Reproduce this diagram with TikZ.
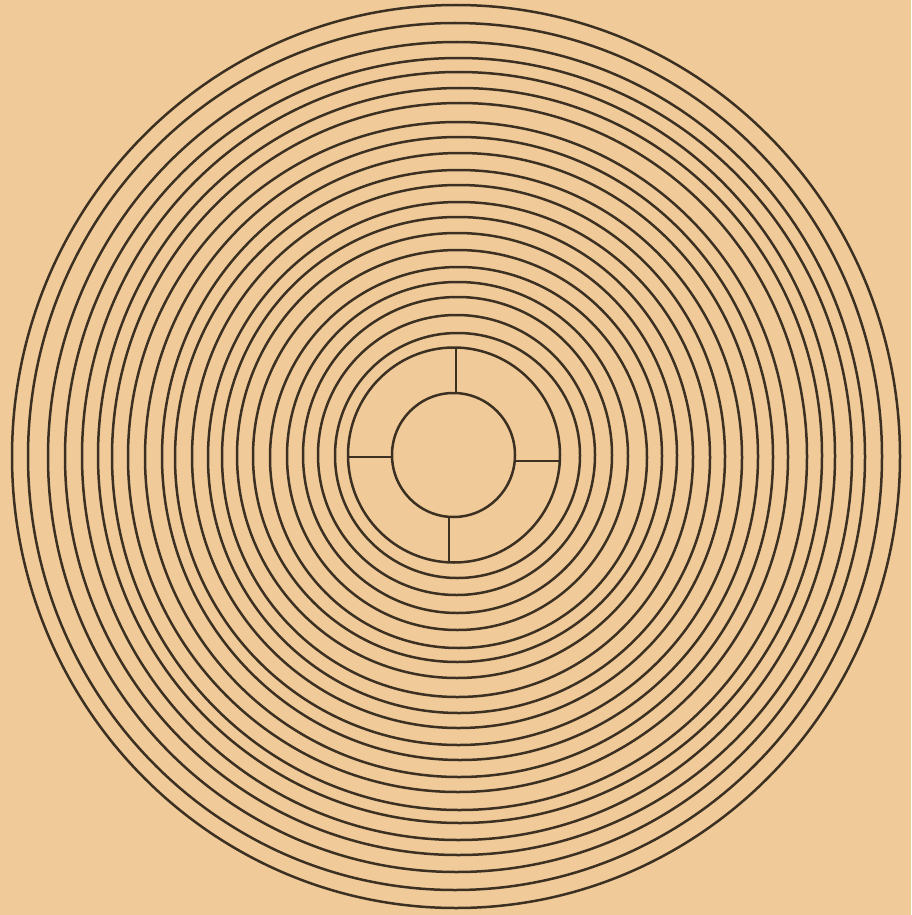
\documentclass[tikz,border=0pt]{standalone}
\definecolor{paper}{RGB}{240,203,153}
\definecolor{ink}{RGB}{60,48,34}
\tikzset{ringline/.style={draw=ink,line width=2.5pt}}
\begin{document}
\begin{tikzpicture}[x=1pt,y=-1pt]
\fill[paper] (0,0) rectangle (911,915);
\useasboundingbox (0,0) rectangle (911,915);
% outer rings: cx/rx/cy/ry
\foreach \cx/\rx/\cy/\ry in {
457.5/122.5/455.5/122.5,
456.5/138.5/455/140,
457.5/154.5/455/158,
457.5/170.5/456/174,
458.5/188.5/457.5/190.5,
457.5/204.5/456/206,
457/220/455.5/222.5,
457.5/235.5/457/240,
459/251/457.5/255.5,
458.5/266.5/456.5/271.5,
458.5/283.5/457.5/287.5,
460/298/456.5/303.5,
459/314/457/320,
458/330/457/335,
459.5/347.5/456.5/353.5,
460/362/455.5/367.5,
458.5/376.5/456/384,
458.5/393.5/456.5/398.5,
456.5/408.5/457/415,
455/427/456.5/433.5,
456/444/456.5/451.5}
  \draw[ringline] (\cx,\cy) ellipse [x radius=\rx, y radius=\ry];
% ring with spokes and hub
\draw[ringline] (454,455) ellipse [x radius=106, y radius=107.5];
\draw[ringline] (453.5,455) ellipse [x radius=61.5, y radius=62];
\draw[ringline] (456,348) -- (456,393);
\draw[ringline] (349,457) -- (392,457);
\draw[ringline] (515,461) -- (559,461);
\draw[ringline] (449,517) -- (449,562);
\end{tikzpicture}
\end{document}
